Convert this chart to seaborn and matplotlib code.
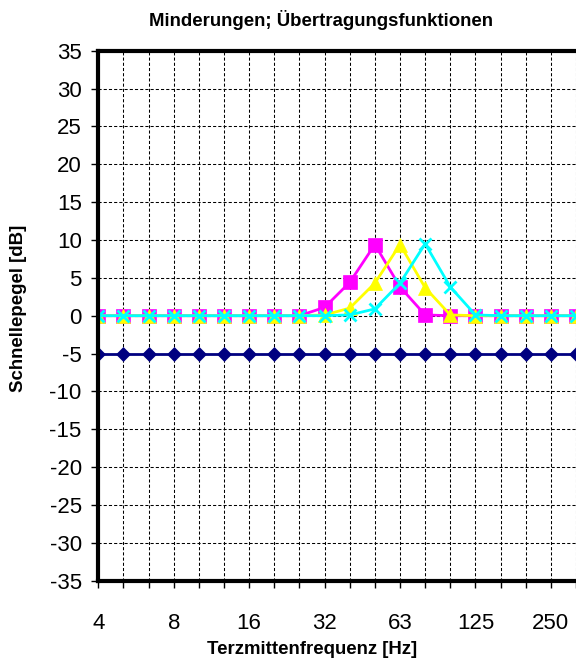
import numpy as np
import pandas as pd
import matplotlib
matplotlib.use("Agg")
import matplotlib.pyplot as plt
import seaborn as sns

# Third-octave band centre frequencies (Hz)
freqs = ["4", "5", "6.3", "8", "10", "12.5", "16", "20", "25", "31.5",
         "40", "50", "63", "80", "100", "125", "160", "200", "250", "315"]
tick_labels = ["4", "", "", "8", "", "", "16", "", "", "32",
               "", "", "63", "", "", "125", "", "", "250", ""]

series_names = ["Minderung", "Filter 50 Hz", "Filter 63 Hz", "Filter 80 Hz"]
minderung = [-5] * 20
filt_50 = [0, 0, 0, 0, 0, 0, 0, 0, 0, 1.1, 4.4, 9.4, 3.8, 0.1, 0, 0, 0, 0, 0, 0]
filt_63 = [0, 0, 0, 0, 0, 0, 0, 0, 0, 0.1, 1.0, 4.3, 9.4, 3.7, 0.1, 0, 0, 0, 0, 0]
filt_80 = [0, 0, 0, 0, 0, 0, 0, 0, 0, 0, 0.1, 0.9, 4.3, 9.5, 3.8, 0.1, 0, 0, 0, 0]

colors = ["#000080", "#FF00FF", "#FFFF00", "#00FFFF"]
markers = ["D", "s", "^", "x"]
msizes = [7, 10, 10, 9]

sns.set_theme(style="white")
plt.rcParams["font.family"] = ["Liberation Sans", "DejaVu Sans"]
plt.rcParams["text.color"] = "black"
plt.rcParams["xtick.color"] = "black"
plt.rcParams["ytick.color"] = "black"

W, H = 576, 661
fig = plt.figure(figsize=(W / 100, H / 100), dpi=100)
ax_left, ax_right, ax_top, ax_bottom = 98.3, 576, 50.7, 580.7
ax = fig.add_axes([ax_left / W, 1 - ax_bottom / H,
                   (ax_right - ax_left) / W, (ax_bottom - ax_top) / H])

pos = np.arange(len(freqs))
df = pd.DataFrame({"pos": pos, "freq": freqs})
for name, vals, c, m, ms in zip(series_names, [minderung, filt_50, filt_63, filt_80],
                                colors, markers, msizes):
    df[name] = vals
    sns.lineplot(data=df, x="pos", y=name, ax=ax, color=c, marker=m,
                 markersize=ms, markeredgecolor=c, markeredgewidth=2 if m == "x" else 0.5,
                 linewidth=2, sort=False, legend=False, clip_on=True)

band_px = 25.3
ax.set_xlim(0, (ax_right - ax_left) / band_px)
ax.set_ylim(-35, 35)
ax.set_xticks(pos)
ax.set_xticklabels(tick_labels)
ax.set_yticks(np.arange(-35, 36, 5))
ax.set_yticklabels([str(v) for v in range(-35, 36, 5)])

ax.grid(True, color="black", linestyle=(0, (3, 2)), linewidth=0.75)
ax.set_axisbelow(True)

for s in ["left", "top", "bottom"]:
    ax.spines[s].set_visible(True)
    ax.spines[s].set_color("black")
    ax.spines[s].set_linewidth(3)
ax.spines["right"].set_visible(False)

ax.tick_params(axis="y", direction="out", length=5, width=1, color="black",
               labelsize=16, pad=7, left=True, labelcolor="black")
ax.tick_params(axis="x", direction="out", length=5, width=1, color="black",
               labelsize=16, pad=18, bottom=True, labelcolor="black")

ax.set_xlabel("")
ax.set_ylabel("")
fig.text(321 / W, 1 - 20 / H, "Minderungen; Übertragungsfunktionen",
         ha="center", va="center", fontsize=13.4, fontweight="bold", color="black")
fig.text(312 / W, 1 - 649 / H, "Terzmittenfrequenz [Hz]",
         ha="center", va="center", fontsize=13.4, fontweight="bold", color="black")
fig.text(19 / W, 1 - 308 / H, "Schnellepegel [dB]", rotation=90,
         ha="center", va="center", fontsize=13.4, fontweight="bold", color="black")

fig.savefig("out.png", dpi=100, facecolor="white")
